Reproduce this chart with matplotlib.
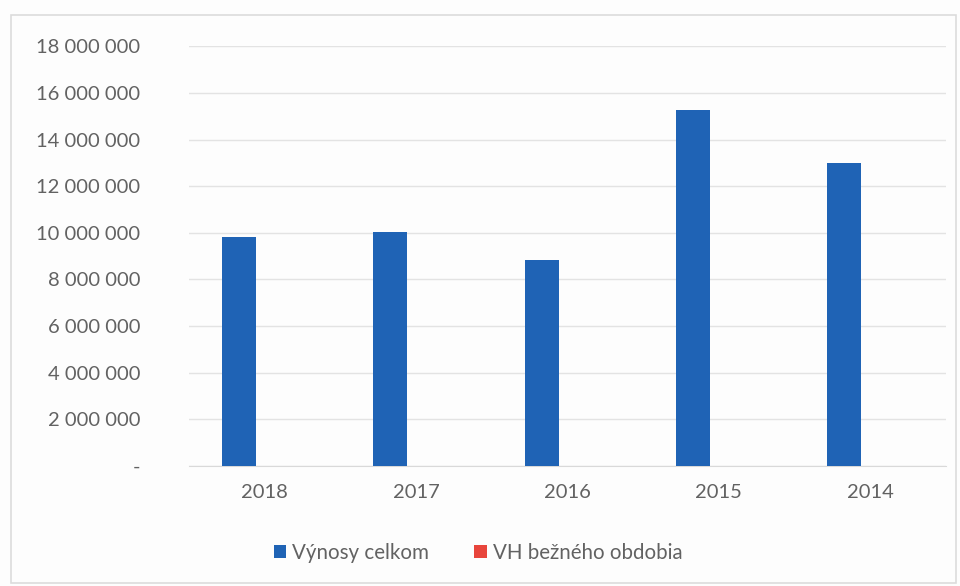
import matplotlib.pyplot as plt
import numpy as np
from matplotlib.ticker import FuncFormatter
from matplotlib.patches import Rectangle

years = ["2018", "2017", "2016", "2015", "2014"]
vynosy = [9830000, 10040000, 8840000, 15280000, 13000000]
vh = [5000, 4000, 3000, 5000, 4000]  # too small to see at this scale

blue = "#1f63b5"
red = "#e8453c"
grey_text = "#626262"

plt.rcParams["font.family"] = ["Lato", "DejaVu Sans"]

fig = plt.figure(figsize=(9.6, 5.86), dpi=100)
fig.patch.set_facecolor("#fdfdfd")
fig.patches.append(Rectangle((0.011, 0.005), 0.985, 0.97, transform=fig.transFigure,
                             fill=False, edgecolor="#dcdcdc", linewidth=1.2))

ax = fig.add_axes([0.197, 0.205, 0.788, 0.716])
ax.set_facecolor("#fdfdfd")

x = np.arange(len(years))
w = 0.225
off = 0.17
ax.bar(x - off, vynosy, w, color=blue, label="Výnosy celkom", zorder=3)
ax.bar(x + off, vh, w, color=red, label="VH bežného obdobia", zorder=3)

ax.set_xlim(-0.5, len(years) - 0.5)
ax.set_ylim(0, 18000000)
ax.set_yticks(np.arange(0, 18000001, 2000000))
ax.yaxis.set_major_formatter(FuncFormatter(
    lambda v, p: "-" if v == 0 else f"{int(v):,}".replace(",", " ")))
ax.set_xticks(x)
ax.set_xticklabels(years)

ax.grid(axis="y", color="#e3e3e3", linewidth=1.0, zorder=0)
for s in ["top", "right", "left"]:
    ax.spines[s].set_visible(False)
ax.spines["bottom"].set_color("#d9d9d9")
ax.tick_params(axis="both", length=0, colors=grey_text, labelsize=14.5)
ax.tick_params(axis="y", pad=35)
ax.tick_params(axis="x", pad=13)

ax.legend(loc="upper center", bbox_to_anchor=(0.382, -0.14), ncol=2, frameon=False,
          fontsize=14.8, labelcolor=grey_text, handlelength=0.6, handleheight=0.6,
          handletextpad=0.3, columnspacing=2.2)

fig.savefig("out.png", dpi=100, facecolor=fig.get_facecolor())
